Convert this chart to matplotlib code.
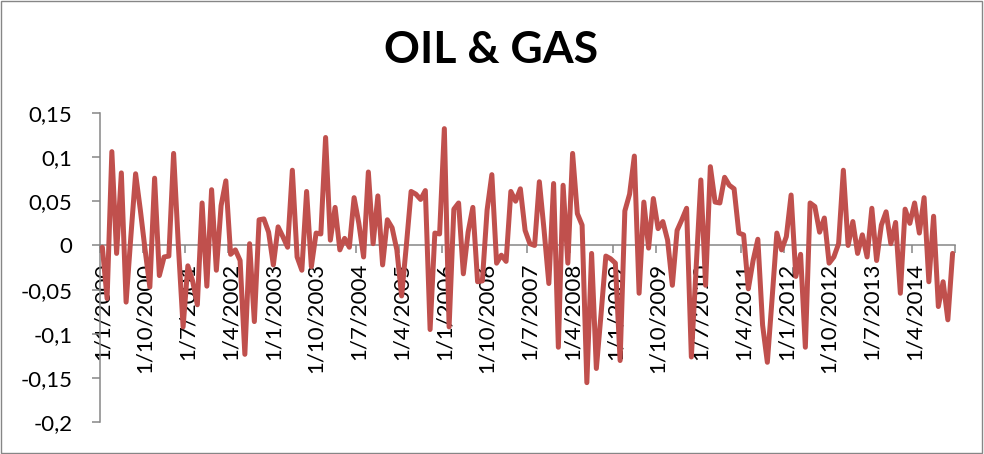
import numpy as np
import pandas as pd
import matplotlib
matplotlib.use('Agg')
import matplotlib.pyplot as plt
from matplotlib.patches import Rectangle

# Monthly returns, Jan 2000 - Dec 2014
returns = [
    -0.002, -0.060, 0.106, -0.009, 0.082, -0.064, 0.010, 0.081, 0.040, -0.005,
    -0.047, 0.076, -0.034, -0.013, -0.012, 0.104, 0.000, -0.092, -0.023, -0.040,
    -0.067, 0.048, -0.046, 0.063, -0.028, 0.045, 0.073, -0.010, -0.005, -0.017,
    -0.123, 0.002, -0.086, 0.029, 0.030, 0.015, -0.022, 0.021, 0.010, -0.002,
    0.085, -0.013, -0.028, 0.061, -0.024, 0.014, 0.013, 0.122, 0.006, 0.043,
    -0.005, 0.008, -0.002, 0.054, 0.025, -0.013, 0.083, 0.002, 0.056, -0.022,
    0.029, 0.020, -0.005, -0.057, 0.000, 0.061, 0.058, 0.052, 0.062, -0.095,
    0.014, 0.013, 0.132, -0.092, 0.041, 0.048, -0.032, 0.015, 0.043, -0.041,
    -0.040, 0.040, 0.080, -0.020, -0.011, -0.018, 0.061, 0.050, 0.064, 0.017,
    0.002, 0.000, 0.072, 0.017, -0.043, 0.070, -0.115, 0.068, -0.020, 0.104,
    0.036, 0.023, -0.155, -0.009, -0.139, -0.077, -0.012, -0.015, -0.020, -0.130,
    0.039, 0.058, 0.101, -0.054, 0.049, -0.003, 0.053, 0.019, 0.027, 0.006,
    -0.045, 0.017, 0.029, 0.042, -0.126, -0.026, 0.074, -0.045, 0.089, 0.049,
    0.048, 0.077, 0.068, 0.064, 0.014, 0.012, -0.049, -0.017, 0.007, -0.090,
    -0.132, -0.060, 0.014, -0.005, 0.010, 0.057, -0.035, -0.010, -0.115, 0.048,
    0.044, 0.015, 0.031, -0.020, -0.013, 0.002, 0.085, 0.000, 0.027, -0.009,
    0.012, -0.013, 0.042, -0.017, 0.023, 0.038, 0.002, 0.026, -0.054, 0.041,
    0.025, 0.048, 0.014, 0.054, -0.041, 0.033, -0.069, -0.041, -0.084, -0.009,
]

months = pd.date_range('2000-01-01', periods=len(returns), freq='MS')
date_labels = [f'{d.day}/{d.month}/{d.year}' for d in months]
label_every = 9

y_ticks = [-0.2, -0.15, -0.1, -0.05, 0, 0.05, 0.1, 0.15]
y_labels = ['-0,2', '-0,15', '-0,1', '-0,05', '0', '0,05', '0,1', '0,15']

title = 'OIL & GAS'

line_color = '#C0504D'
axis_color = '#868686'
fonts = ['Lato', 'DejaVu Sans']

fig = plt.figure(figsize=(9.84, 4.54), dpi=100)
ax = fig.add_axes([0.1016, 0.0694, 0.8689, 0.6824])

x = np.arange(len(returns))
ax.plot(x, returns, color=line_color, lw=3.6, solid_joinstyle='round',
        solid_capstyle='round', zorder=3, clip_on=False)

ax.set_xlim(-0.5, len(returns) - 0.5)
ax.set_ylim(-0.2, 0.15)

for side in ['top', 'right']:
    ax.spines[side].set_visible(False)
for side in ['left', 'bottom']:
    ax.spines[side].set_color(axis_color)
    ax.spines[side].set_linewidth(1.1)
ax.spines['bottom'].set_position(('data', 0))

# tick marks between category groups, labels on the first month of each group
ax.set_xticks(np.arange(-0.5, len(returns), label_every))
ax.set_xticklabels([])
ax.set_xticks(x[::label_every], minor=True)
ax.set_xticklabels(date_labels[::label_every], minor=True, rotation=90,
                   fontsize=16, family=fonts)
ax.tick_params(axis='x', which='major', direction='out', length=5.8,
               width=1.1, color=axis_color)
ax.tick_params(axis='x', which='minor', length=0, pad=12.5)

ax.set_yticks(y_ticks)
ax.set_yticklabels(y_labels, fontsize=16, family=fonts)
ax.tick_params(axis='y', direction='out', length=5.8, width=1.1,
               color=axis_color, pad=14)

fig.text(0.499, 0.89, title, ha='center', va='center', fontsize=32,
         fontweight='bold', family=fonts)

fig.patches.append(Rectangle((0.001, 0.002), 0.997, 0.996, transform=fig.transFigure,
                             fill=False, edgecolor=axis_color, lw=1.0))

fig.savefig('out.png', dpi=100)
